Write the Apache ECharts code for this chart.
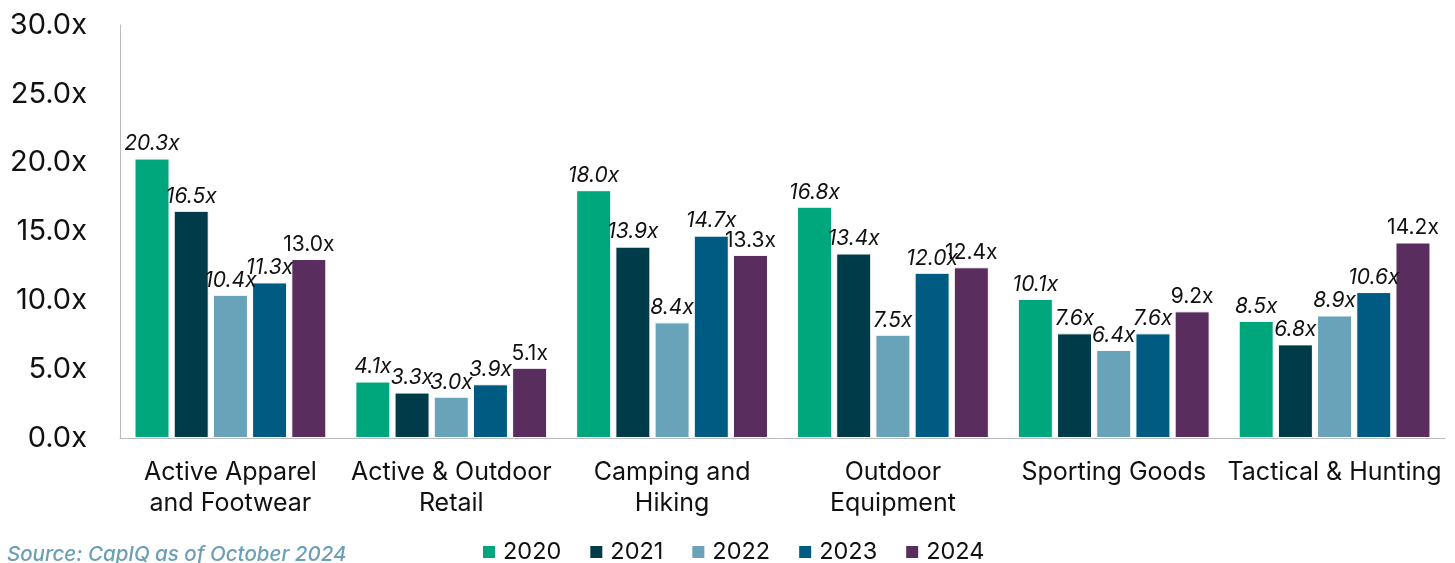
<!DOCTYPE html>
<html><head><meta charset="utf-8">
<script src="https://cdn.jsdelivr.net/npm/echarts@6/dist/echarts.min.js"></script>
<style>html,body{margin:0;padding:0;background:#fff}#c{width:1455px;height:563px}</style>
</head><body><div id="c"></div>
<script>
const categories = ["Active Apparel\nand Footwear","Active & Outdoor\nRetail","Camping and\nHiking","Outdoor\nEquipment","Sporting Goods","Tactical & Hunting"];
const years = ["2020","2021","2022","2023","2024"];
const v2020 = [20.3, 4.1, 18.0, 16.8, 10.1, 8.5];
const v2021 = [16.5, 3.3, 13.9, 13.4, 7.6, 6.8];
const v2022 = [10.4, 3.0, 8.4, 7.5, 6.4, 8.9];
const v2023 = [11.3, 3.9, 14.7, 12.0, 7.6, 10.6];
const v2024 = [13.0, 5.1, 13.3, 12.4, 9.2, 14.2];
const yTicks = [0, 5, 10, 15, 20, 25, 30];
const colors = ["#00A77D", "#003B4A", "#69A3B9", "#005B82", "#592D5D"];
const seriesData = [v2020, v2021, v2022, v2023, v2024];
const font = "Inter, Lato, 'Noto Sans', sans-serif";
const chart = echarts.init(document.getElementById('c'));
chart.setOption({
  animation: false,
  textStyle: {fontFamily: font},
  grid: {left: 120, right: 10, top: 25, bottom: 125, containLabel: false},
  legend: {
    data: years, top: 535, left: 476, itemWidth: 14, itemHeight: 14, itemGap: 27,
    icon: 'rect',
    textStyle: {fontSize: 23.5, color: '#111', fontFamily: font, padding: [0,0,0,2]}
  },
  graphic: [{type: 'text', left: 7, top: 545, style: {text: 'Source: CapIQ as of October 2024', fill: '#6A9FB5', font: 'italic 500 20.5px Inter, Lato, sans-serif'}}],
  xAxis: {
    type: 'category', data: categories,
    axisLine: {lineStyle: {color: '#bbb'}}, axisTick: {show: false},
    axisLabel: {fontSize: 25, color: '#111', lineHeight: 31, margin: 19, interval: 0}
  },
  yAxis: {
    type: 'value', min: yTicks[0], max: yTicks[yTicks.length-1], interval: 5,
    splitLine: {show: false},
    axisLine: {show: true, lineStyle: {color: '#bbb'}},
    axisLabel: {fontSize: 29, color: '#111', margin: 33, formatter: v => v.toFixed(1) + 'x'}
  },
  series: seriesData.map((d, i) => ({
    name: years[i], type: 'bar', data: d,
    barWidth: 35, barGap: '12%',
    itemStyle: {color: colors[i], borderColor: '#fff', borderWidth: 1},
    label: {show: true, position: 'top', distance: 4, fontSize: 21, color: '#111',
      fontStyle: i === 4 ? 'normal' : 'italic',
      formatter: p => p.value.toFixed(1) + 'x'}
  }))
});
</script></body></html>
